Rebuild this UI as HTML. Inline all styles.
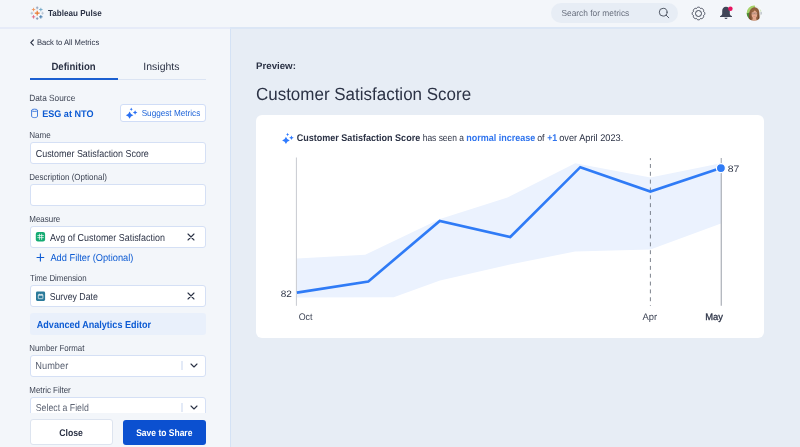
<!DOCTYPE html>
<html lang="en">
<head>
<meta charset="utf-8">
<title>Tableau Pulse</title>
<style>
*{box-sizing:border-box;margin:0;padding:0}
html,body{width:800px;height:447px;overflow:hidden;background:#e7edf5;font-family:"Liberation Sans",sans-serif;color:#2b3245}
.abs{position:absolute}
#top{left:0;top:0;width:800px;height:28.5px;background:#f3f6fa;border-bottom:2px solid #dbe6f5}
#side{left:0;top:28.5px;width:231px;height:419px;background:#f3f6fa;border-right:1px solid #d4e2f5}
svg{will-change:transform}
.inp{position:absolute;left:29.5px;width:176.2px;height:22px;background:#fff;border:1px solid #d5e0f5;border-radius:3px}
</style>
</head>
<body>
<div id="top" class="abs"></div>
<div id="side" class="abs"></div>
<div class="abs" style="left:0;top:26.5px;width:230px;height:2px;background:#e6ebf8"></div>

<!-- top bar -->
<svg class="abs" style="left:29.5px;top:5.8px" width="14.4" height="14.4" viewBox="0 0 15 15">
 <g stroke-linecap="butt" fill="none">
  <path d="M7.5 5v5M5 7.500h5" stroke="#e8762d" stroke-width="1.2"/>
  <path d="M7.500 0.400v3M6.200 1.900h2.600" stroke="#8496b4" stroke-width="0.800"/>
  <path d="M7.500 11.600v3M6.200 13.100h2.600" stroke="#7c8fb0" stroke-width="0.800"/>
  <path d="M1.900 6v3M0.500 7.500h2.800" stroke="#a9b9cb" stroke-width="0.800"/>
  <path d="M13.100 6v3M11.700 7.500h2.800" stroke="#b5c2d0" stroke-width="0.800"/>
  <path d="M3.700 1.900v3.600M1.900 3.700h3.600" stroke="#f0935a" stroke-width="0.900"/>
  <path d="M11.300 1.900v3.600M9.500 3.700h3.600" stroke="#6aa3c4" stroke-width="0.900"/>
  <path d="M3.700 9.500v3.600M1.900 11.300h3.600" stroke="#e0647e" stroke-width="0.900"/>
  <path d="M11.300 9.500v3.600M9.500 11.300h3.600" stroke="#2f6ea6" stroke-width="0.900"/>
 </g>
</svg>

<div class="abs" style="left:551.4px;top:3px;width:126.6px;height:20px;border-radius:10px;background:#e7edf5"></div>
<svg class="abs" style="left:658.4px;top:7.4px" width="12" height="12" viewBox="0 0 12 12" fill="none" stroke="#4b5260" stroke-width="0.95" stroke-linecap="round"><circle cx="5.2" cy="5.2" r="3.9"/><path d="M8.100 8.100l2.700 2.700"/></svg>
<!-- gear -->
<svg class="abs" style="left:690.9px;top:5.7px" width="15" height="15" viewBox="0 0 15 15" fill="none" stroke="#3a4050" stroke-width="0.95" stroke-linejoin="round">
 <path d="M7.50 1.20 L7.66 1.21 L7.83 1.22 L7.99 1.25 L8.15 1.29 L8.31 1.34 L8.47 1.41 L8.62 1.48 L8.76 1.57 L8.90 1.66 L9.04 1.77 L9.16 1.89 L9.28 2.01 L9.39 2.16 L9.49 2.32 L9.55 2.56 L9.76 2.43 L9.94 2.39 L10.12 2.36 L10.29 2.35 L10.47 2.36 L10.64 2.38 L10.80 2.41 L10.97 2.45 L11.13 2.51 L11.28 2.57 L11.43 2.65 L11.57 2.73 L11.71 2.83 L11.83 2.93 L11.95 3.05 L12.07 3.17 L12.17 3.29 L12.27 3.43 L12.35 3.57 L12.43 3.72 L12.49 3.87 L12.55 4.03 L12.59 4.20 L12.62 4.36 L12.64 4.53 L12.65 4.71 L12.64 4.88 L12.61 5.06 L12.57 5.24 L12.44 5.45 L12.68 5.51 L12.84 5.61 L12.99 5.72 L13.11 5.84 L13.23 5.96 L13.34 6.10 L13.43 6.24 L13.52 6.38 L13.59 6.53 L13.66 6.69 L13.71 6.85 L13.75 7.01 L13.78 7.17 L13.79 7.34 L13.80 7.50 L13.79 7.66 L13.78 7.83 L13.75 7.99 L13.71 8.15 L13.66 8.31 L13.59 8.47 L13.52 8.62 L13.43 8.76 L13.34 8.90 L13.23 9.04 L13.11 9.16 L12.99 9.28 L12.84 9.39 L12.68 9.49 L12.44 9.55 L12.57 9.76 L12.61 9.94 L12.64 10.12 L12.65 10.29 L12.64 10.47 L12.62 10.64 L12.59 10.80 L12.55 10.97 L12.49 11.13 L12.43 11.28 L12.35 11.43 L12.27 11.57 L12.17 11.71 L12.07 11.83 L11.95 11.95 L11.83 12.07 L11.71 12.17 L11.57 12.27 L11.43 12.35 L11.28 12.43 L11.13 12.49 L10.97 12.55 L10.80 12.59 L10.64 12.62 L10.47 12.64 L10.29 12.65 L10.12 12.64 L9.94 12.61 L9.76 12.57 L9.55 12.44 L9.49 12.68 L9.39 12.84 L9.28 12.99 L9.16 13.11 L9.04 13.23 L8.90 13.34 L8.76 13.43 L8.62 13.52 L8.47 13.59 L8.31 13.66 L8.15 13.71 L7.99 13.75 L7.83 13.78 L7.66 13.79 L7.50 13.80 L7.34 13.79 L7.17 13.78 L7.01 13.75 L6.85 13.71 L6.69 13.66 L6.53 13.59 L6.38 13.52 L6.24 13.43 L6.10 13.34 L5.96 13.23 L5.84 13.11 L5.72 12.99 L5.61 12.84 L5.51 12.68 L5.45 12.44 L5.24 12.57 L5.06 12.61 L4.88 12.64 L4.71 12.65 L4.53 12.64 L4.36 12.62 L4.20 12.59 L4.03 12.55 L3.87 12.49 L3.72 12.43 L3.57 12.35 L3.43 12.27 L3.29 12.17 L3.17 12.07 L3.05 11.95 L2.93 11.83 L2.83 11.71 L2.73 11.57 L2.65 11.43 L2.57 11.28 L2.51 11.13 L2.45 10.97 L2.41 10.80 L2.38 10.64 L2.36 10.47 L2.35 10.29 L2.36 10.12 L2.39 9.94 L2.43 9.76 L2.56 9.55 L2.32 9.49 L2.16 9.39 L2.01 9.28 L1.89 9.16 L1.77 9.04 L1.66 8.90 L1.57 8.76 L1.48 8.62 L1.41 8.47 L1.34 8.31 L1.29 8.15 L1.25 7.99 L1.22 7.83 L1.21 7.66 L1.20 7.50 L1.21 7.34 L1.22 7.17 L1.25 7.01 L1.29 6.85 L1.34 6.69 L1.41 6.53 L1.48 6.38 L1.57 6.24 L1.66 6.10 L1.77 5.96 L1.89 5.84 L2.01 5.72 L2.16 5.61 L2.32 5.51 L2.56 5.45 L2.43 5.24 L2.39 5.06 L2.36 4.88 L2.35 4.71 L2.36 4.53 L2.38 4.36 L2.41 4.20 L2.45 4.03 L2.51 3.87 L2.57 3.72 L2.65 3.57 L2.73 3.43 L2.83 3.29 L2.93 3.17 L3.05 3.05 L3.17 2.93 L3.29 2.83 L3.43 2.73 L3.57 2.65 L3.72 2.57 L3.87 2.51 L4.03 2.45 L4.20 2.41 L4.36 2.38 L4.53 2.36 L4.71 2.35 L4.88 2.36 L5.06 2.39 L5.24 2.43 L5.45 2.56 L5.51 2.32 L5.61 2.16 L5.72 2.01 L5.84 1.89 L5.96 1.77 L6.10 1.66 L6.24 1.57 L6.38 1.48 L6.53 1.41 L6.69 1.34 L6.85 1.29 L7.01 1.25 L7.17 1.22 L7.34 1.21Z"/>
 <circle cx="7.5" cy="7.5" r="3"/>
</svg>
<!-- bell -->
<svg class="abs" style="left:718.3px;top:5px" width="16" height="16" viewBox="0 0 16 16">
 <path d="M8 1.700C5.600 1.700 4.200 3.500 4.200 6V8.400C4.200 9.700 3.200 10.500 2 11.200V12H14V11.200C12.800 10.500 11.800 9.700 11.800 8.400V6C11.800 3.500 10.400 1.700 8 1.700Z" fill="#3f4557"/>
 <path d="M6.400 12.700a1.650 1.650 0 0 0 3.200 0z" fill="#3f4557"/>
 <circle cx="12.400" cy="3.800" r="2.250" fill="#e8135f"/>
</svg>
<!-- avatar -->
<svg class="abs" style="left:746.2px;top:5px" width="16.4" height="16.4" viewBox="0 0 16.400 16.400">
 <defs><clipPath id="av"><circle cx="8.140" cy="8.100" r="7.500"/></clipPath></defs>
 <circle cx="8.140" cy="8.100" r="8.100" fill="#f7f9fc"/>
 <g clip-path="url(#av)">
  <rect width="16.400" height="16.400" fill="#eef0ee"/>
  <path d="M0 0H9V3L5.500 9 0 10Z" fill="#a5d268"/>
  <path d="M0 8.500 4 7.500 5 16.400H0Z" fill="#4d8a35"/>
  <path d="M14.500 4.500h1.900v2h-1.900z" fill="#b9d99a"/>
  <path d="M14.700 6.900h1.700v2.800h-1.700z" fill="#9aa5b1"/>
  <path d="M3.100 16.400C2.700 12.500 2.800 7.500 4.400 4.800 5.400 3.100 6.900 2.200 8.500 2.200 10.300 2.200 11.800 3.100 12.600 4.800 13.700 7.200 13.600 12 13.300 16.400Z" fill="#8f5e3e"/>
  <path d="M3.300 16.400C3 13 3.200 9 4.200 6.500 4.300 10 4.700 13.500 5.300 16.400ZM13.100 16.400C13.400 13 13.300 9.500 12.500 6.800 12.400 10.500 12 13.800 11.400 16.400Z" fill="#75492f"/>
  <path d="M6.800 12.500h3.200l.800 3.900H6z" fill="#e0a58a"/>
  <ellipse cx="8.400" cy="9.200" rx="2.750" ry="4.100" fill="#e8ab91"/>
  <path d="M5.500 7.800C5.600 5.400 6.900 4.200 8.500 4.200 10.100 4.200 11.300 5.400 11.400 7.800 10.300 7 9.500 6.200 8.900 5.300 8.100 6.500 6.900 7.300 5.500 7.800Z" fill="#96643f"/>
  <path d="M5.900 7.900h2.200v1.200H5.900zM8.800 7.900h2.200v1.200H8.800zM8.100 8.300h.700" fill="none" stroke="#6e6a66" stroke-width="0.280"/>
  <path d="M7.400 11.300q1.100.600 2.100 0" fill="none" stroke="#c9776f" stroke-width="0.500"/>
 </g>
</svg>

<!-- sidebar -->
<svg class="abs" style="left:28.5px;top:38.5px" width="6" height="7" viewBox="0 0 6 7" fill="none" stroke="#2b3245" stroke-width="1.2" stroke-linecap="round" stroke-linejoin="round"><path d="M4.300 1L1.800 3.600 4.300 6.200"/></svg>

<div class="abs" style="left:29.500px;top:79px;width:176px;height:1px;background:#dbe4f3"></div>
<div class="abs" style="left:29.500px;top:77.5px;width:88px;height:2.5px;background:#1b5fd0"></div>

<svg class="abs" style="left:30px;top:107px" width="10" height="13" viewBox="30 107 10 13" fill="none" stroke="#2468d8" stroke-width="0.850"><path d="M31.600 110.300V116.300c0 .750 1.300 1.300 2.950 1.300s2.950-.550 2.950-1.300V110.300"/><ellipse cx="34.550" cy="110.300" rx="2.950" ry="1.150"/></svg>
<div class="abs" style="left:120.2px;top:104px;width:85.6px;height:18px;background:#fff;border:1px solid #d0ddf7;border-radius:3px"></div>
<svg class="abs" style="left:123px;top:106px" width="16" height="16" viewBox="0 0 16 16" fill="#2a70f2"><path d="M6.60 5.60Q7.36 8.48 10.40 9.20Q7.36 9.92 6.60 12.80Q5.84 9.92 2.80 9.20Q5.84 8.48 6.60 5.60ZM12.10 4.25Q12.38 6.19 14.40 6.45Q12.38 6.71 12.10 8.65Q11.82 6.71 9.80 6.45Q11.82 6.19 12.10 4.25ZM8.25 1.60Q8.44 3.10 9.85 3.30Q8.44 3.50 8.25 5.00Q8.06 3.50 6.65 3.30Q8.06 3.10 8.25 1.60Z"/></svg>

<div class="inp" style="top:142px"></div>

<div class="inp" style="top:184px"></div>

<div class="inp" style="top:226px"></div>
<svg class="abs" style="left:35px;top:231px" width="11" height="11" viewBox="35 231 11 11"><rect x="35.800" y="231.900" width="9.300" height="9.600" rx="2.100" fill="#14ab72"/><path d="M39.450 233.700v6.200M41.650 233.700v6.200M37.400 235.500h6.400M37.400 237.600h6.400" stroke="#fff" stroke-width="0.750" fill="none" stroke-opacity="0.920"/></svg>
<svg class="abs" style="left:187.3px;top:232.6px" width="8" height="8" viewBox="0 0 8 8" stroke="#2b3245" stroke-width="1.100" stroke-linecap="round"><path d="M1 1l6 6M7 1L1 7"/></svg>

<svg class="abs" style="left:35px;top:252px" width="11" height="11" viewBox="35 252 11 11" stroke="#0d5bd3" stroke-width="1.100" stroke-linecap="butt"><path d="M40.400 253.600v7.800M36.600 257.500h7.600"/></svg>

<div class="inp" style="top:285px"></div>
<svg class="abs" style="left:35px;top:291px" width="11" height="11" viewBox="35 291 11 11"><rect x="36" y="291.600" width="9.100" height="9.300" rx="1.300" fill="#2a7a9a"/><rect x="38.300" y="294.500" width="4.600" height="4.200" rx=".500" fill="none" stroke="#fff" stroke-width=".750" stroke-opacity=".900"/><path d="M38.300 295.300h4.600" stroke="#fff" stroke-width=".900" stroke-opacity=".750"/><path d="M39.300 293.700v1M41.900 293.700v1" stroke="#fff" stroke-width=".700" stroke-opacity=".900"/></svg>
<svg class="abs" style="left:187.3px;top:291.6px" width="8" height="8" viewBox="0 0 8 8" stroke="#2b3245" stroke-width="1.100" stroke-linecap="round"><path d="M1 1l6 6M7 1L1 7"/></svg>

<div class="abs" style="left:29.5px;top:313.2px;width:176.2px;height:22px;background:#e9f0fb;border-radius:3px"></div>

<div class="inp" style="top:355px"></div>
<div class="abs" style="left:181.2px;top:361.3px;width:1.5px;height:9px;background:#e3eaf7"></div>
<svg class="abs" style="left:189.6px;top:362.6px" width="8" height="5" viewBox="0 0 8 5" fill="none" stroke="#2b3245" stroke-width="1.100" stroke-linecap="round" stroke-linejoin="round"><path d="M1 1l3 3 3-3"/></svg>

<div class="inp" style="top:397px"></div>
<div class="abs" style="left:181.2px;top:403.3px;width:1.5px;height:9px;background:#e3eaf7"></div>
<svg class="abs" style="left:189.6px;top:404.6px" width="8" height="5" viewBox="0 0 8 5" fill="none" stroke="#2b3245" stroke-width="1.100" stroke-linecap="round" stroke-linejoin="round"><path d="M1 1l3 3 3-3"/></svg>

<!-- footer -->
<div class="abs" style="left:0;top:413px;width:230px;height:34px;background:#f3f6fa"></div>
<div class="abs" style="left:29.5px;top:419.3px;width:83.2px;height:25.5px;background:#fff;border:1px solid #dde4ef;border-radius:3px"></div>
<div class="abs" style="left:123px;top:419.5px;width:82.7px;height:25.5px;background:#0b50d0;border-radius:3px"></div>

<!-- main -->
<div class="abs" style="left:256px;top:114.500px;width:507.500px;height:223px;background:#fff;border-radius:6px"></div>

<svg class="abs" style="left:279px;top:131px" width="16" height="16" viewBox="0 0 16 16" fill="#2f7bff"><path d="M6.95 5.85Q7.71 8.73 10.75 9.45Q7.71 10.17 6.95 13.05Q6.19 10.17 3.15 9.45Q6.19 8.73 6.95 5.85ZM12.45 4.50Q12.73 6.44 14.75 6.70Q12.73 6.96 12.45 8.90Q12.17 6.96 10.15 6.70Q12.17 6.44 12.45 4.50ZM8.60 1.85Q8.79 3.35 10.20 3.55Q8.79 3.75 8.60 5.25Q8.41 3.75 7.00 3.55Q8.41 3.35 8.60 1.85Z"/></svg>

<svg class="abs" style="left:256px;top:114px" width="508" height="224" viewBox="256 114 508 224">
 <polygon points="296.9,258.6 365.2,254.7 440,219 507.5,197.5 575.2,163.2 650.4,177.4 721,163.3 721,223.6 650.4,249.5 575,251.5 510,264.5 440,280.5 393.7,297.2 296.9,297.4" fill="#ebf2fe"/>
 <path d="M296.4 157.500V305.800" stroke="#c7cad1" stroke-width="1"/>
 <path d="M650.4 158.100V305.800" stroke="#6e7480" stroke-width="0.900" stroke-dasharray="3.920 3.920" stroke-dashoffset="1.940"/>
 <path d="M721.25 158.100V305.800" stroke="#a3a7b0" stroke-width="1.100"/>
 <polyline points="296.9,292.6 368.3,281.6 439.75,220.9 510.25,237 580.3,167.2 650.4,191.6 720.9,168.1" fill="none" stroke="#2f7bf6" stroke-width="2.6" stroke-linejoin="miter"/>
 <circle cx="720.9" cy="168.1" r="4.500" fill="#2f7bf6" stroke="#fff" stroke-width="1.200"/>
</svg>
<svg class="abs" style="left:0;top:0" width="800" height="447" viewBox="0 0 800 447" font-family="Liberation Sans, sans-serif" text-rendering="geometricPrecision">
<text x="48.02" y="16.25" font-size="8.72" textLength="53.69" lengthAdjust="spacingAndGlyphs" fill="#2b3245" font-weight="bold">Tableau Pulse</text>
<text x="561.47" y="15.80" font-size="8.72" textLength="67.78" lengthAdjust="spacingAndGlyphs" fill="#676e7d">Search for metrics</text>
<text x="36.89" y="44.75" font-size="7.99" textLength="62.33" lengthAdjust="spacingAndGlyphs" fill="#2b3245">Back to All Metrics</text>
<text x="51.43" y="69.70" font-size="10.47" textLength="44.16" lengthAdjust="spacingAndGlyphs" fill="#2b3245" font-weight="bold">Definition</text>
<text x="143.36" y="69.70" font-size="10.47" textLength="36.16" lengthAdjust="spacingAndGlyphs" fill="#2b3245">Insights</text>
<text x="29.24" y="100.90" font-size="9.01" textLength="46.06" lengthAdjust="spacingAndGlyphs" fill="#3d4454">Data Source</text>
<text x="42.21" y="116.50" font-size="9.59" textLength="51.24" lengthAdjust="spacingAndGlyphs" fill="#0d5bd3" font-weight="bold">ESG at NTO</text>
<text x="141.67" y="116.25" font-size="8.72" textLength="58.57" lengthAdjust="spacingAndGlyphs" fill="#1b62d8">Suggest Metrics</text>
<text x="29.25" y="138.00" font-size="8.87" textLength="21.54" lengthAdjust="spacingAndGlyphs" fill="#3d4454">Name</text>
<text x="35.75" y="156.50" font-size="10.17" textLength="113.07" lengthAdjust="spacingAndGlyphs" fill="#2b3245">Customer Satisfaction Score</text>
<text x="29.26" y="180.00" font-size="8.87" textLength="77.67" lengthAdjust="spacingAndGlyphs" fill="#3d4454">Description (Optional)</text>
<text x="29.26" y="222.00" font-size="8.87" textLength="31.03" lengthAdjust="spacingAndGlyphs" fill="#3d4454">Measure</text>
<text x="50.00" y="240.50" font-size="10.17" textLength="114.90" lengthAdjust="spacingAndGlyphs" fill="#2b3245">Avg of Customer Satisfaction</text>
<text x="50.40" y="260.80" font-size="10.03" textLength="82.99" lengthAdjust="spacingAndGlyphs" fill="#0d5bd3">Add Filter (Optional)</text>
<text x="30.04" y="281.20" font-size="8.87" textLength="56.60" lengthAdjust="spacingAndGlyphs" fill="#3d4454">Time Dimension</text>
<text x="49.65" y="299.70" font-size="10.17" textLength="48.17" lengthAdjust="spacingAndGlyphs" fill="#2b3245">Survey Date</text>
<text x="36.82" y="327.55" font-size="10.10" textLength="114.26" lengthAdjust="spacingAndGlyphs" fill="#0d5bd3" font-weight="bold">Advanced Analytics Editor</text>
<text x="29.27" y="350.90" font-size="8.87" textLength="55.11" lengthAdjust="spacingAndGlyphs" fill="#3d4454">Number Format</text>
<text x="35.36" y="369.20" font-size="10.03" textLength="32.86" lengthAdjust="spacingAndGlyphs" fill="#5d6474">Number</text>
<text x="29.27" y="392.85" font-size="8.87" textLength="41.44" lengthAdjust="spacingAndGlyphs" fill="#3d4454">Metric Filter</text>
<text x="35.75" y="410.90" font-size="10.03" textLength="53.04" lengthAdjust="spacingAndGlyphs" fill="#5d6474">Select a Field</text>
<text x="59.25" y="435.90" font-size="9.67" textLength="23.68" lengthAdjust="spacingAndGlyphs" fill="#2b3245" font-weight="bold">Close</text>
<text x="136.18" y="435.90" font-size="9.67" textLength="56.24" lengthAdjust="spacingAndGlyphs" fill="#ffffff" font-weight="bold">Save to Share</text>
<text x="256.02" y="68.80" font-size="9.59" textLength="39.88" lengthAdjust="spacingAndGlyphs" fill="#2b3245" font-weight="bold">Preview:</text>
<text x="255.95" y="100.10" font-size="17.73" textLength="215.16" lengthAdjust="spacingAndGlyphs" fill="#2b3245">Customer Satisfaction Score</text>
<text x="296.64" y="141.10" font-size="9.74" textLength="123.60" lengthAdjust="spacingAndGlyphs" fill="#2b3245" font-weight="bold">Customer Satisfaction Score</text>
<text x="422.69" y="141.10" font-size="9.74" textLength="41.27" lengthAdjust="spacingAndGlyphs" fill="#2b3245">has seen a</text>
<text x="466.21" y="141.10" font-size="9.74" textLength="69.03" lengthAdjust="spacingAndGlyphs" fill="#2f74ee" font-weight="bold">normal increase</text>
<text x="537.15" y="141.10" font-size="9.74" textLength="7.33" lengthAdjust="spacingAndGlyphs" fill="#2b3245">of</text>
<text x="547.15" y="141.10" font-size="9.74" textLength="10.09" lengthAdjust="spacingAndGlyphs" fill="#2f74ee" font-weight="bold">+1</text>
<text x="559.13" y="141.10" font-size="9.74" textLength="64.17" lengthAdjust="spacingAndGlyphs" fill="#2b3245">over April 2023.</text>
<text x="280.80" y="296.80" font-size="9.43" textLength="11.16" lengthAdjust="spacingAndGlyphs" fill="#2b3245">82</text>
<text x="727.68" y="171.60" font-size="9.43" textLength="11.60" lengthAdjust="spacingAndGlyphs" fill="#2b3245">87</text>
<text x="298.64" y="320.10" font-size="9.59" textLength="13.84" lengthAdjust="spacingAndGlyphs" fill="#3d4455">Oct</text>
<text x="642.50" y="320.10" font-size="9.59" textLength="14.62" lengthAdjust="spacingAndGlyphs" fill="#3d4455">Apr</text>
<text x="705.25" y="320.10" font-size="9.59" textLength="17.75" lengthAdjust="spacingAndGlyphs" fill="#2b3245" stroke="#2b3245" stroke-width="0.3">May</text>
</svg>
</body>
</html>
